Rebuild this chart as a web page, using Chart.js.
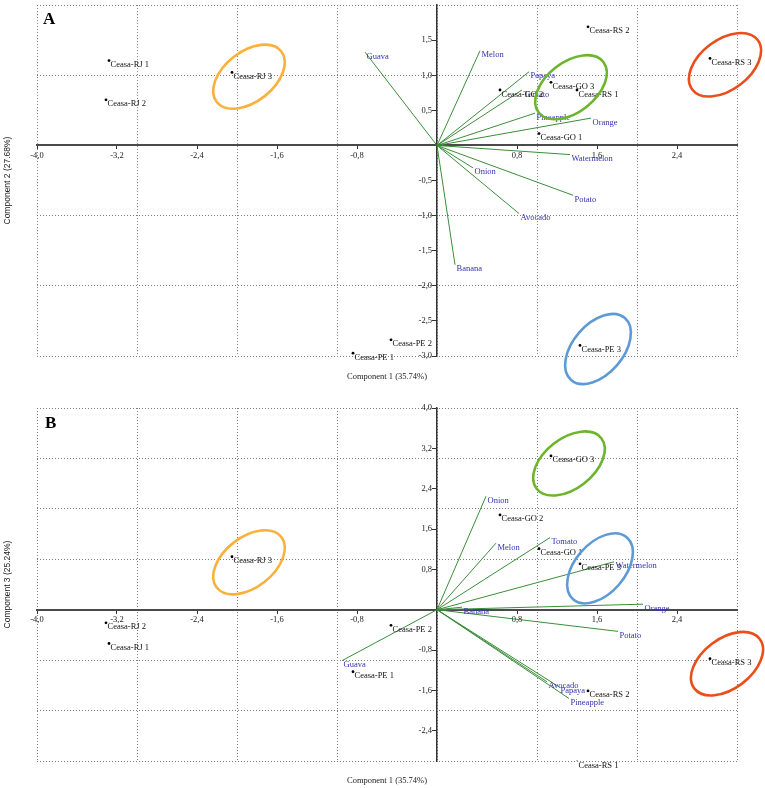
<!DOCTYPE html>
<html><head><meta charset="utf-8">
<script src="https://cdn.jsdelivr.net/npm/chart.js@4.4.0/dist/chart.umd.min.js"></script>
<style>
html,body{margin:0;padding:0;background:#fff;}
#wrapA{position:absolute;left:0;top:0;width:765px;height:392px;}
#wrapB{position:absolute;left:0;top:392px;width:765px;height:396px;}
</style></head><body>
<div id="wrapA"><canvas id="cA" width="765" height="392"></canvas></div>
<div id="wrapB"><canvas id="cB" width="765" height="396"></canvas></div>
<script>
// ---------- data ----------
const sampleNames = ['Ceasa-RJ 1','Ceasa-RJ 2','Ceasa-RJ 3','Ceasa-PE 1','Ceasa-PE 2','Ceasa-PE 3','Ceasa-GO 1','Ceasa-GO 2','Ceasa-GO 3','Ceasa-RS 1','Ceasa-RS 2','Ceasa-RS 3'];
const samplePC1 = [-3.28,-3.31,-2.05,-0.84,-0.46,1.43,1.02,0.63,1.14,1.40,1.51,2.73];
const samplePC2 = [1.21,0.65,1.04,-2.96,-2.77,-2.85,0.17,0.79,0.90,0.79,1.69,1.24];
const samplePC3 = [-0.67,-0.26,1.05,-1.23,-0.31,0.91,1.21,1.88,3.05,-3.02,-1.61,-0.97];

const varNames = ['Guava','Melon','Papaya','Tomato','Pineapple','Orange','Watermelon','Onion','Potato','Avocado','Banana'];
const loadA_PC1 = [-0.72,0.43,0.92,0.85,0.98,1.54,1.33,0.36,1.36,0.82,0.18];
const loadA_PC2 = [1.33,1.35,1.05,0.79,0.46,0.39,-0.13,-0.32,-0.71,-0.97,-1.70];
const loadB_PC1 = [-0.95,0.59,1.22,1.13,1.32,2.06,1.77,0.49,1.81,1.10,0.25];
const loadB_PC3 = [-1.01,1.32,-1.53,1.43,-1.76,0.11,0.95,2.25,-0.43,-1.43,0.05];

const groupNames = ['Ceasa-RJ','Ceasa-GO','Ceasa-RS','Ceasa-PE'];
const ellipseA_x = [-1.88,1.34,2.88,1.61];
const ellipseA_y = [0.98,0.83,1.15,-2.90];
const ellipseB_x = [-1.88,1.32,2.90,1.63];
const ellipseB_y = [0.94,2.90,-1.07,0.82];

const xTickVals = [-4.0,-3.2,-2.4,-1.6,-0.8,0.8,1.6,2.4];
const yTickValsA = [1.5,1.0,0.5,-0.5,-1.0,-1.5,-2.0,-2.5,-3.0];
const yTickValsB = [4.0,3.2,2.4,1.6,0.8,-0.8,-1.6,-2.4];
const xTitle = 'Component 1 (35.74%)';
const yTitleA = 'Component 2 (27.68%)';
const yTitleB = 'Component 3 (25.24%)';

// ---------- styles ----------
const GRID = '#7d7d7d';
const VEC = '#3a8d3a';
const VARCOL = '#3232b0';
const ELL_COL = ['#fbb03b','#6cb52d','#e94e1b','#5e9bd6'];
const ELL_ROT = [-38,-38,-37,-49];
const SERIF = 'Liberation Serif';

Chart.defaults.font.family = SERIF;

const fmt = v => Number(v).toFixed(1).replace('.', ',');

const labelPlugin = {
  id: 'pointLabels',
  afterDatasetsDraw(chart) {
    const ctx = chart.ctx;
    chart.data.datasets.forEach((ds, i) => {
      if (!ds.pointLabels) return;
      const meta = chart.getDatasetMeta(i);
      ctx.save();
      ctx.font = ds.labelFont;
      ctx.fillStyle = ds.labelColor;
      ctx.textBaseline = 'top';
      ctx.textAlign = 'left';
      ds.pointLabels.forEach((t, j) => {
        if (t == null) return;
        const el = meta.data[j];
        ctx.fillText(t, el.x + 1.5, el.y);
      });
      ctx.restore();
    });
  }
};

const decorPlugin = {
  id: 'decor',
  afterDraw(chart, args, opts) {
    const ctx = chart.ctx;
    const xs = chart.scales.x, ys = chart.scales.y;
    ctx.save();
    opts.ex.forEach((cx, i) => {
      ctx.beginPath();
      ctx.ellipse(xs.getPixelForValue(cx), ys.getPixelForValue(opts.ey[i]), 41, 25, ELL_ROT[i] * Math.PI / 180, 0, Math.PI * 2);
      ctx.strokeStyle = ELL_COL[i];
      ctx.lineWidth = 2.6;
      ctx.stroke();
    });
    ctx.fillStyle = '#000';
    ctx.font = 'bold 17px ' + SERIF;
    ctx.textBaseline = 'alphabetic';
    ctx.textAlign = 'left';
    ctx.fillText(opts.letter, chart.chartArea.left + opts.lx, chart.chartArea.top + opts.ly);
    ctx.restore();
  }
};

function makeDatasets(lx, ly, sy) {
  const ds = [];
  varNames.forEach((n, i) => {
    ds.push({
      label: n,
      data: [{x: 0, y: 0}, {x: lx[i], y: ly[i]}],
      showLine: true, borderColor: VEC, borderWidth: 1, pointRadius: 0,
      xAxisID: 'x', yAxisID: 'y',
      pointLabels: [null, n], labelFont: '8.5px ' + SERIF, labelColor: VARCOL
    });
  });
  ds.push({
    label: 'samples',
    data: samplePC1.map((v, i) => ({x: v, y: sy[i]})),
    pointRadius: 1.4, pointBackgroundColor: '#000', pointBorderWidth: 0,
    xAxisID: 'x', yAxisID: 'y',
    pointLabels: sampleNames, labelFont: '8.5px ' + SERIF, labelColor: '#111'
  });
  return ds;
}

function makeScales(yMin, yMax, yTitle, yTicks, xtp, ytp) {
  const tickFont = {family: SERIF, size: 8.5};
  return {
    x: {
      type: 'linear', min: -4, max: 3, position: 'bottom',
      ticks: {display: false, stepSize: 1},
      grid: {color: GRID, lineWidth: 1, drawTicks: false},
      border: {display: false, dash: [1, 2]},
      title: {display: true, text: xTitle, color: '#222', font: {family: SERIF, size: 8.5}, padding: xtp}
    },
    y: {
      type: 'linear', min: yMin, max: yMax, position: 'left',
      ticks: {display: false, stepSize: 1},
      grid: {color: GRID, lineWidth: 1, drawTicks: false},
      border: {display: false, dash: [1, 2]},
      title: {display: true, text: yTitle, color: '#222', font: {family: 'Liberation Sans', size: 8.5}, padding: ytp}
    },
    // horizontal zero axis with tick labels
    x0: {
      type: 'linear', min: -4, max: 3, position: {y: 0},
      afterBuildTicks: s => { s.ticks = xTickVals.map(v => ({value: v})); },
      ticks: {callback: fmt, font: tickFont, color: '#222', padding: 2, maxRotation: 0, autoSkip: false},
      grid: {drawOnChartArea: false, drawTicks: true, tickLength: 3, tickColor: '#333', tickWidth: 1},
      border: {display: true, color: '#4a4a4a', width: 2}
    },
    // vertical zero axis: line + tick marks
    y0: {
      type: 'linear', min: yMin, max: yMax, position: {x: 0},
      afterBuildTicks: s => { s.ticks = yTicks.map(v => ({value: v})); },
      ticks: {display: false, autoSkip: false},
      grid: {drawOnChartArea: false, drawTicks: true, tickLength: 4, tickColor: '#333', tickWidth: 1},
      border: {display: true, color: '#333', width: 1.5}
    },
    // tick labels of the vertical zero axis, set just left of the tick marks
    yL: {
      type: 'linear', min: yMin, max: yMax, position: {x: -0.05},
      afterBuildTicks: s => { s.ticks = yTicks.map(v => ({value: v})); },
      ticks: {callback: fmt, font: tickFont, color: '#222', padding: 0, autoSkip: false},
      grid: {display: false, drawOnChartArea: false, drawTicks: false},
      border: {display: false}
    }
  };
}

function makeChart(id, lx, ly, sy, yMin, yMax, yTitle, yTicks, padTop, xtp, ex, ey, letter, lxo, lyo) {
  return new Chart(document.getElementById(id), {
    type: 'scatter',
    data: {datasets: makeDatasets(lx, ly, sy)},
    options: {
      responsive: false, animation: false, devicePixelRatio: 1,
      layout: {padding: {left: 0, top: padTop, right: 28, bottom: 0}},
      plugins: {legend: {display: false}, tooltip: {enabled: false},
        decor: {ex: ex, ey: ey, letter: letter, lx: lxo, ly: lyo}},
      scales: makeScales(yMin, yMax, yTitle, yTicks, xtp, {top: 2.4, bottom: 24.4})
    },
    plugins: [labelPlugin, decorPlugin]
  });
}

makeChart('cA', loadA_PC1, loadA_PC2, samplePC2, -3, 2, yTitleA, yTickValsA, 4, {top: 15.9, bottom: 9.9}, ellipseA_x, ellipseA_y, 'A', 6, 19);
makeChart('cB', loadB_PC1, loadB_PC3, samplePC3, -3, 4, yTitleB, yTickValsB, 16, {top: 14.9, bottom: 1.9}, ellipseB_x, ellipseB_y, 'B', 8, 20);
</script>
</body></html>
